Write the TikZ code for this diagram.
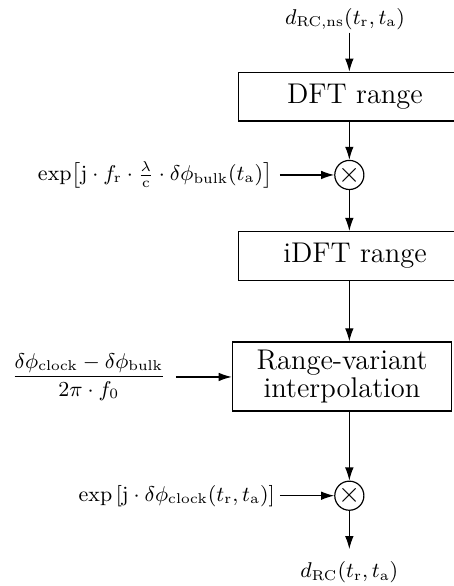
\documentclass[tikz,border=0pt]{standalone}
\usepackage{tikz}
\usetikzlibrary{arrows.meta,positioning,calc}
\usepackage{amsmath,amssymb}
\tikzset{
  proc/.style={draw, minimum width=3.454cm, minimum height=0.721cm, inner sep=3pt, font=\large, align=center},
  procW/.style={proc, minimum width=3.246cm, minimum height=1.021cm},
  mult/.style={circle, draw, inner sep=0pt, minimum size=0.42cm, font=\large},
  lbl/.style={inner sep=1pt, font=\small},
  arr/.style={-{Latex[length=5.5pt,width=3.6pt]}, draw=black},
}

\begin{document}
\begin{tikzpicture}[node distance=0.567cm, line width=0.5pt]
  \useasboundingbox (0,0) rectangle (6.703,8.671);
  \node[lbl] (sin) at (5.105,8.390) {$d_{\mathrm{RC,ns}}(t_{\mathrm{r}},t_{\mathrm{a}})$};
  \node[proc] (dft) at (5.253,7.240) {DFT range};
  \node[mult] (m1) at (5.169,6.082) {$\times$};
  \node[lbl, anchor=east, inner sep=3pt] (ph1) at (4.143,6.082)
    {$\exp\bigl[\mathrm{j}\cdot f_{\mathrm{r}}\cdot\frac{\lambda}{\mathrm{c}}\cdot\delta\phi_{\mathrm{bulk}}(t_{\mathrm{a}})\bigr]$};
  \node[proc] (idft) at (5.253,4.883) {iDFT range};
  \node[procW] (interp) at (5.061,3.100) {Range-variant\\[-2pt]interpolation};
  \node[lbl, anchor=east, inner sep=4pt] (frac) at (2.604,3.093)
    {$\dfrac{\delta\phi_{\mathrm{clock}}-\delta\phi_{\mathrm{bulk}}}{2\pi\cdot f_0}$};
  \node[mult] (m2) at (5.169,1.336) {$\times$};
  \node[lbl, anchor=east, inner sep=2pt] (ph2) at (4.143,1.336)
    {$\exp\left[\mathrm{j}\cdot\delta\phi_{\mathrm{clock}}(t_{\mathrm{r}},t_{\mathrm{a}})\right]$};
  \node[lbl, inner sep=5pt, below=of m2] (sout) {$d_{\mathrm{RC}}(t_{\mathrm{r}},t_{\mathrm{a}})$};
  % signal path
  \draw[arr] (sin.south -| m1) -- (m1 |- dft.north);
  \draw[arr] (m1 |- dft.south) -- (m1);
  \draw[arr] (ph1.east) -- (m1.west);
  \draw[arr] (m1) -- (m1 |- idft.north);
  \draw[arr] (m1 |- idft.south) -- (m1 |- interp.north);
  \draw[arr] (frac.east) -- (frac.east -| interp.west);
  \draw[arr] (m1 |- interp.south) -- (m2);
  \draw[arr] (ph2.east) -- (m2.west);
  \draw[arr] (m2) -- (sout);
\end{tikzpicture}
\end{document}
